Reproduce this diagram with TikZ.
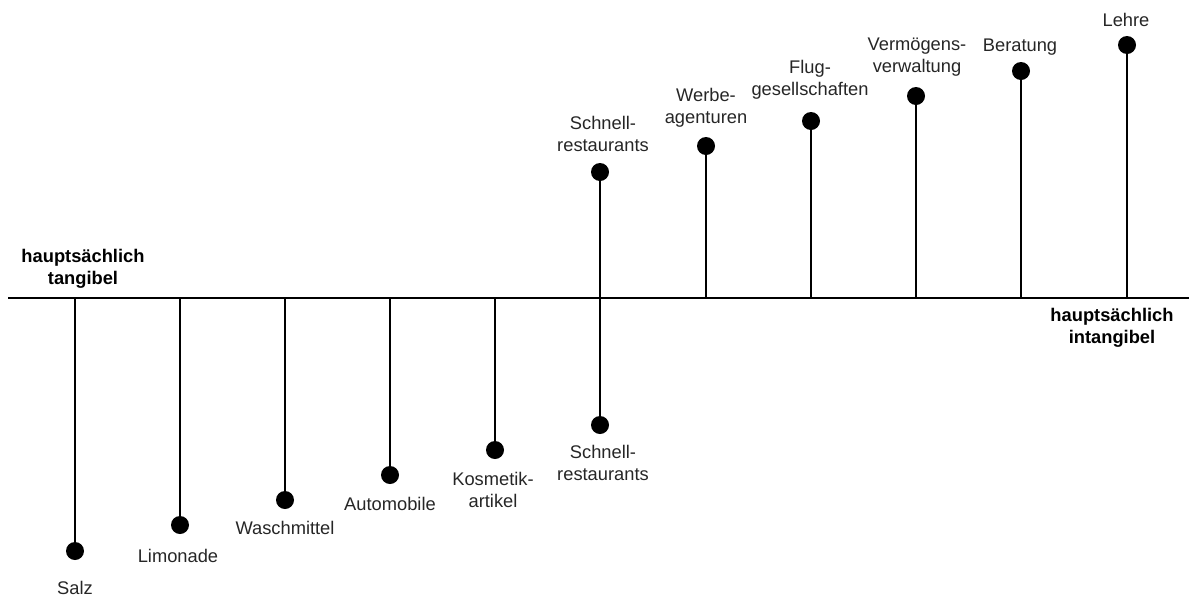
\documentclass[tikz,border=0pt]{standalone}
\usepackage{fontspec}
\setmainfont{Liberation Sans}
\begin{document}
\begin{tikzpicture}[x=1pt,y=-1pt,
  dot/.style={circle,fill=black,inner sep=0pt,minimum size=18pt},
  lbl/.style={inner sep=0pt,align=center,font=\fontsize{18.3}{21.5}\selectfont,text=black!85},
  blbl/.style={lbl,font=\fontsize{18.3}{21.5}\selectfont\bfseries,text=black},
  stem/.style={line width=2.7pt,black}]
\useasboundingbox (0,0) rectangle (1189,598);
\coordinate (L) at (8,298);
\coordinate (R) at (1189,298);
\draw[stem] (L) -- (R);
% bases on axis
\foreach \n/\x in {a/75,b/180,c/285,d/390,e/495,f/600,g/706,h/811,i/916,j/1021,k/1127}{
  \coordinate (base\n) at (\x,298);
}
% dots
\node[dot] (salz) at (75,551) {};
\node[dot] (limo) at (180,525) {};
\node[dot] (wasch) at (285,500) {};
\node[dot] (auto) at (390,475) {};
\node[dot] (kosm) at (495,450) {};
\node[dot] (schl) at (600,425) {};
\node[dot] (schu) at (600,172) {};
\node[dot] (werb) at (706,146) {};
\node[dot] (flug) at (811,121) {};
\node[dot] (verm) at (916,96) {};
\node[dot] (bera) at (1021,71) {};
\node[dot] (lehr) at (1127,45) {};
% stems
\draw[stem] (basea) -- (salz.center);
\draw[stem] (baseb) -- (limo.center);
\draw[stem] (basec) -- (wasch.center);
\draw[stem] (based) -- (auto.center);
\draw[stem] (basee) -- (kosm.center);
\draw[stem] (schu.center) -- (schl.center);
\draw[stem] (baseg) -- (werb.center);
\draw[stem] (baseh) -- (flug.center);
\draw[stem] (basei) -- (verm.center);
\draw[stem] (basej) -- (bera.center);
\draw[stem] (basek) -- (lehr.center);
% labels
\node[lbl] (tsalz) at (75,588) {Salz};
\node[lbl] (tlimo) at (178,556) {Limonade};
\node[lbl] (twasch) at (285,528) {Waschmittel};
\node[lbl] (tauto) at (390,504) {Automobile};
\node[lbl] (tkosm) at (493,490) {Kosmetik-\\artikel};
\node[lbl] (tschl) at (603,463) {Schnell-\\restaurants};
\node[lbl] (tschu) at (603,134) {Schnell-\\restaurants};
\node[lbl] (twerb) at (706,108) {Werbe-\\agenturen};
\node[lbl] (tflug) at (810,80) {Flug-\\gesellschaften};
\node[lbl] (tverm) at (917,57) {Verm\"ogens-\\verwaltung};
\node[lbl] (tbera) at (1020,47) {Beratung};
\node[lbl] (tlehr) at (1126,20) {Lehre};
\node[blbl] (ttang) at (83,269) {haupts\"achlich\\tangibel};
\node[blbl] (tintang) at (1112,328) {haupts\"achlich\\intangibel};
\end{tikzpicture}
\end{document}
